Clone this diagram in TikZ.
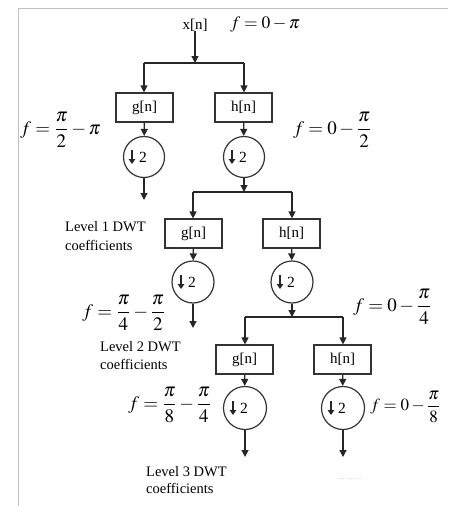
\documentclass[tikz,border=0pt]{standalone}
\usepackage{mathptmx}
\usepackage{fontspec}
\setmainfont{Liberation Serif}
\usetikzlibrary{arrows.meta}
\newcommand\dsmark[1]{%
  \node[two] (#1t) at ([xshift=-1pt]#1.center) {2};
  \draw[line width=1.8pt, draw=black!85, -{Triangle[length=5pt,width=6.5pt]}]
    ([xshift=-12pt,yshift=7pt]#1.center) -- ([xshift=-12pt,yshift=-7pt]#1.center);}
\begin{document}
\begin{tikzpicture}[x=1pt,y=-1pt,
  line/.style={draw=black!85, line width=1.2pt},
  arr/.style={line, -{Triangle[length=7pt,width=7pt]}},
  filt/.style={draw=black!80, line width=1.2pt, minimum width=57pt, minimum height=29pt, inner sep=0pt, font=\fontsize{15}{17}\selectfont},
  dsc/.style={circle, draw=black!80, line width=1.2pt, minimum size=41pt, inner sep=0pt},
  two/.style={font=\fontsize{15.5}{17}\selectfont, inner sep=0pt},
  lbl/.style={font=\fontsize{14.5}{17}\selectfont, inner sep=0pt, anchor=base west},
  freq/.style={font=\fontsize{19}{22}\selectfont, inner sep=0pt, anchor=west},
  dots/.style={text=black!35, font=\fontsize{7}{8}\selectfont, inner sep=0pt}
]
\useasboundingbox (0,0) rectangle (448,506);
\draw[black!25, line width=1pt] (18,506) -- (18,8) -- (448,8);

% level 0
\node[font=\fontsize{15}{17}\selectfont, inner sep=0pt, anchor=base] (xn) at (195,29) {x[n]};
\node[font=\fontsize{17.5}{20}\selectfont, inner sep=0pt, anchor=base west] (f0) at (230,28) {$f = 0 - \pi$};
\coordinate (j0) at (195,63);
\coordinate (j0g) at (144,63);
\coordinate (j0h) at (244,63);
\draw[arr] (xn) -- (j0);
\draw[line] (j0g) -- (j0h);

% level 1
\node[filt] (g1) at (144.5,107.5) {g[n]};
\node[filt] (h1) at (243.5,107.5) {h[n]};
\node[dsc] (d1g) at (144,157) {};
\node[dsc] (d1h) at (244,157) {};
\dsmark{d1g}\dsmark{d1h}
\draw[arr] (j0g) -- (j0g |- g1.north);
\draw[arr] (j0h) -- (j0h |- h1.north);
\draw[arr] (g1) -- (d1g);
\draw[arr] (h1) -- (d1h);
\coordinate (o1) at (144,200);
\draw[arr] (d1g) -- (o1);
\node[freq] (f1g) at (20,130) {$f = \displaystyle\frac{\pi}{2} - \pi$};
\node[freq] (f1h) at (293,130) {$f = 0 - \displaystyle\frac{\pi}{2}$};
\node[lbl] (l1a) at (65,231) {Level 1 DWT};
\node[lbl] (l1b) at (65,250) {coefficients};
\coordinate (j1) at (244,192);
\coordinate (j1g) at (193,192);
\coordinate (j1h) at (292,192);
\draw[arr] (d1h) -- (j1);
\draw[line] (j1g) -- (j1h);

% level 2
\node[filt] (g2) at (193.5,233.5) {g[n]};
\node[filt] (h2) at (291.5,233.5) {h[n]};
\node[dsc, minimum size=42pt] (d2g) at (193,282) {};
\node[dsc, minimum size=42pt] (d2h) at (292,282) {};
\dsmark{d2g}\dsmark{d2h}
\draw[arr] (j1g) -- (j1g |- g2.north);
\draw[arr] (j1h) -- (j1h |- h2.north);
\draw[arr] (g2) -- (d2g);
\draw[arr] (h2) -- (d2h);
\coordinate (o2) at (193,328);
\draw[arr] (d2g) -- (o2);
\node[freq] (f2g) at (82,313) {$f = \displaystyle\frac{\pi}{4} - \frac{\pi}{2}$};
\node[freq] (f2h) at (353,307) {$f = 0 - \displaystyle\frac{\pi}{4}$};
\node[lbl] (l2a) at (100,351) {Level 2 DWT};
\node[lbl] (l2b) at (100,369) {coefficients};
\coordinate (j2) at (292,317);
\coordinate (j2g) at (245,317);
\coordinate (j2h) at (343,317);
\draw[arr] (d2h) -- (j2);
\draw[line] (j2g) -- (j2h);

% level 3
\node[filt] (g3) at (244.5,359.5) {g[n]};
\node[filt] (h3) at (342.5,359.5) {h[n]};
\node[dsc, minimum size=43pt] (d3g) at (245,408) {};
\node[dsc, minimum size=43pt] (d3h) at (343,408) {};
\dsmark{d3g}\dsmark{d3h}
\draw[arr] (j2g) -- (j2g |- g3.north);
\draw[arr] (j2h) -- (j2h |- h3.north);
\draw[arr] (g3) -- (d3g);
\draw[arr] (h3) -- (d3h);
\coordinate (o3g) at (245,457);
\coordinate (o3h) at (343,457);
\draw[arr] (d3g) -- (o3g);
\draw[arr] (d3h) -- (o3h);
\node[freq] (f3g) at (128,405) {$f = \displaystyle\frac{\pi}{8} - \frac{\pi}{4}$};
\node[freq, font=\fontsize{17}{20}\selectfont] (f3h) at (370,407) {$f = 0 - \displaystyle\frac{\pi}{8}$};
\node[lbl] (l3a) at (146,476) {Level 3 DWT};
\node[lbl] (l3b) at (146,493) {coefficients};
\node[dots] (dd) at (349,479) {.\,.\,.\;\,.\,.\,.\,.\,.};
\end{tikzpicture}
\end{document}
